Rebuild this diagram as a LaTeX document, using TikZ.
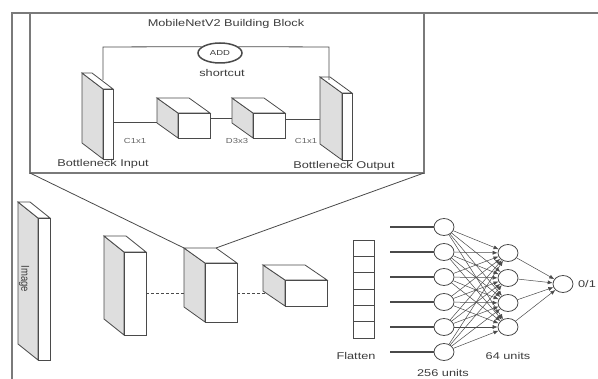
\documentclass[tikz,border=0pt]{standalone}
\usepackage{fontspec}
\setmainfont{Liberation Sans}
\usepackage{graphicx}
\usetikzlibrary{shapes.geometric,arrows.meta}
\definecolor{ln}{HTML}{4A4A4A}
\definecolor{sidegray}{HTML}{DEDEDE}
\definecolor{framegray}{HTML}{7A7A7A}
\definecolor{txt}{HTML}{3C3C3C}
\newcommand\wide[1]{\scalebox{1.3}[1]{#1}}
\newcommand\drawprism[6]{%
  \draw[prismline, fill=sidegray] (#1,#2) -- ({#1+#3},{#2+#4}) -- ({#1+#3},{#2+#4+#6}) -- (#1,{#2+#6}) -- cycle;
  \draw[prismline, fill=white] (#1,#2) -- ({#1+#5},#2) -- ({#1+#3+#5},{#2+#4}) -- ({#1+#3},{#2+#4}) -- cycle;
  \draw[prismline, fill=white] ({#1+#3},{#2+#4}) rectangle ({#1+#3+#5},{#2+#4+#6});
}
\begin{document}
\begin{tikzpicture}[x=1pt,y=-1pt,
  prismline/.style={draw=ln, line width=0.8pt, line join=miter},
  frameline/.style={draw=framegray, line width=1.3pt},
  conn/.style={draw=ln, line width=0.8pt},
  lbl/.style={text=txt, inner sep=0pt, font=\fontsize{9.8}{11}\selectfont},
  small/.style={text=txt!80, inner sep=0pt, font=\fontsize{7.3}{8}\selectfont},
  neuron/.style={ellipse, draw=ln, line width=0.8pt, fill=white, minimum width=20pt, minimum height=17pt, inner sep=0pt},
  nnarrow/.style={draw=ln, line width=0.5pt, -{Latex[length=5pt,width=4pt]}},
  inline/.style={draw=ln, line width=1.7pt}]
\useasboundingbox (0,0) rectangle (598,379);
\fill[white] (0,0) rectangle (598,379);

% outer frame and inset box
\draw[frameline] (12,379) -- (12,13) -- (598,13);
\coordinate (boxBL) at (30,173);
\coordinate (boxBR) at (424,173);
\draw[frameline] (30,13) -- (boxBL) -- (boxBR) -- (424,13);

\node[lbl] (title) at (226,24) {\wide{MobileNetV2 Building Block}};

% building block
\drawprism{82}{73}{21}{16}{10}{70}
\drawprism{157}{98}{21}{15}{32}{25}
\drawprism{232}{98}{21}{15}{32}{25}
\drawprism{320}{77}{22}{16}{10}{67}

\node[ellipse, draw=ln, line width=1.5pt, minimum width=44pt, minimum height=20pt, inner sep=0pt, font=\fontsize{7.3}{8}\selectfont, text=txt] (add) at (220,53) {\wide{ADD}};
\node[lbl] (shortcut) at (222,73) {\wide{shortcut}};

\coordinate (inTop) at (103,80);
\coordinate (inTopUp) at (103,47);
\coordinate (outTop) at (329,80);
\coordinate (outTopUp) at (329,47);
\draw[conn] (inTop) -- (inTopUp) -- (add.161);
\draw[conn] (add.19) -- (outTopUp) -- (outTop);

\coordinate (inR) at (113,122);
\coordinate (c1L) at (157,122);
\draw[conn] (inR) -- (c1L);
\coordinate (c1R) at (210,118);
\coordinate (c2L) at (232,118);
\draw[conn] (c1R) -- (c2L);
\coordinate (c2R) at (285,119);
\coordinate (outL) at (320,119);
\draw[conn] (c2R) -- (outL);

\node[small] (k1) at (135,141) {\wide{C1x1}};
\node[small] (k2) at (237,141) {\wide{D3x3}};
\node[small] (k3) at (306,141) {\wide{C1x1}};
\node[lbl] (bin) at (103,164) {\wide{Bottleneck Input}};
\node[lbl] (bout) at (344,166) {\wide{Bottleneck Output}};

% lower pipeline
\drawprism{18}{202}{20}{16}{12}{142}
\node[text=txt, inner sep=0pt, font=\fontsize{9.5}{10}\selectfont, rotate=-90] (imglbl) at (24,279) {\scalebox{1}[1.2]{Image}};
\drawprism{104}{236}{20}{16}{22}{83}
\drawprism{184}{248}{21}{15}{32}{59}
\drawprism{263}{265}{22}{15}{42}{26}

\coordinate (c3TL) at (184,248);
\coordinate (c3TR) at (216,248);
\draw[conn] (boxBL) -- (c3TL);
\draw[conn] (boxBR) -- (c3TR);

\coordinate (s2R) at (146,293);
\coordinate (c3L) at (184,293);
\coordinate (c3R) at (237,293);
\coordinate (c4L) at (265,293);
\draw[conn, dash pattern=on 3pt off 2pt] (s2R) -- (c3L);
\draw[conn, dash pattern=on 3pt off 2pt] (c3R) -- (c4L);

% flatten
\draw[conn] (353,240) rectangle (374,338);
\foreach \i in {1,...,5} {\draw[conn] (353,{240+\i*16.33}) -- (374,{240+\i*16.33});}
\node[lbl] (flat) at (356,356) {\wide{Flatten}};

% dense layers
\foreach \i/\y in {1/227,2/252,3/277,4/302,5/327,6/352} {
  \node[neuron] (L\i) at (444,\y) {};
  \coordinate (I\i) at (390,\y);
  \draw[inline] (I\i) -- (L\i.west);
}
\foreach \j/\y in {1/253,2/278,3/303,4/327} {
  \node[neuron] (M\j) at (508,\y) {};
}
\node[neuron] (O) at (563,284) {};

\foreach \i in {1,...,6} {
  \foreach \j in {1,...,4} {
    \draw[nnarrow] (L\i) -- (M\j);
  }
}
\foreach \j in {1,...,4} {\draw[nnarrow] (M\j) -- (O);}

\node[lbl] (out) at (587,284) {\wide{0/1}};
\node[lbl] (u256) at (443,373) {\wide{256 units}};
\node[lbl] (u64) at (508,356) {\wide{64 units}};
\end{tikzpicture}
\end{document}
